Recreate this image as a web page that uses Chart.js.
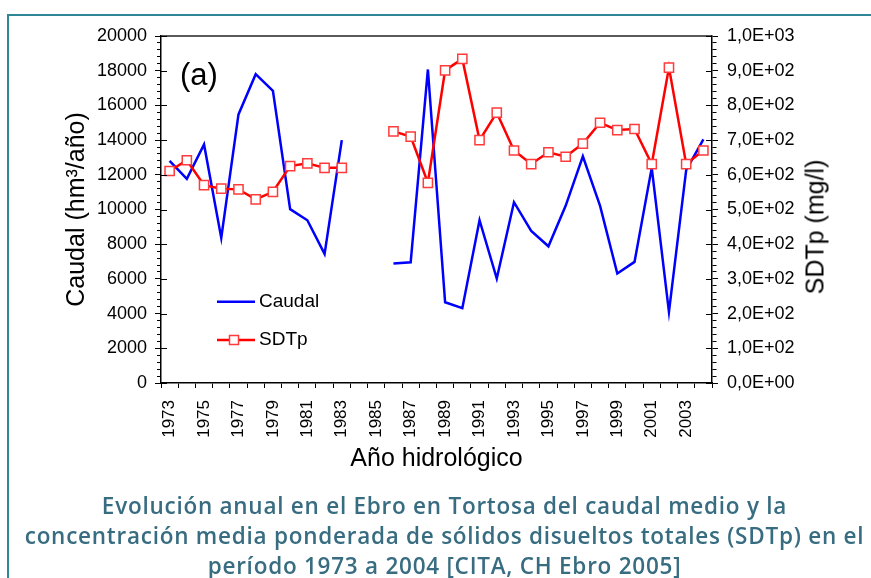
<!DOCTYPE html>
<html>
<head>
<meta charset="utf-8">
<script src="https://cdn.jsdelivr.net/npm/chart.js@4.4.1/dist/chart.umd.min.js"></script>
<style>
  html, body { margin: 0; padding: 0; background: #fff; }
  #wrap { position: relative; width: 871px; height: 578px; overflow: hidden; background: #fff; }
  #c { position: absolute; left: 0; top: 0; }
  .frameTop { position: absolute; left: 7px; top: 14px; width: 864px; height: 2px; background: #2e8696; }
  .frameLeft { position: absolute; left: 7px; top: 14px; width: 2px; height: 564px; background: #2e8696; }
  .txt { position: absolute; font-family: "Liberation Sans", Arial, sans-serif; color: #000; white-space: nowrap; }
  #panel { left: 180px; top: 59px; font-size: 31px; line-height: 31px; }
  #rtitle { left: 815px; top: 227px; font-size: 25px; line-height: 25px; transform: translate(-50%, -50%) rotate(-90deg); }
  .legtxt { font-size: 19px; line-height: 22px; }
  #caption { position: absolute; left: 0; width: 889px; top: 491px; text-align: center;
             font-family: "Open Sans", sans-serif; font-weight: 600; font-size: 22.5px; letter-spacing: 0.75px;
             line-height: 30px; color: #386d81; white-space: nowrap; }
</style>
</head>
<body>
<div id="wrap">
  <canvas id="c" width="871" height="578"></canvas>
  <div class="frameTop"></div>
  <div class="frameLeft"></div>
  <div class="txt" id="panel">(a)</div>
  <div class="txt" id="rtitle">SDTp (mg/l)</div>
  <svg style="position:absolute;left:215px;top:290px" width="44" height="60">
    <line x1="2" y1="11.7" x2="40" y2="11.7" stroke="#0000ff" stroke-width="2.5"/>
    <line x1="2" y1="50" x2="40" y2="50" stroke="#ff0000" stroke-width="2.5"/>
    <rect x="14.5" y="45.5" width="9" height="9" fill="#fff" stroke="#ff3b3b" stroke-width="1.5"/>
  </svg>
  <div class="txt legtxt" id="leg0" style="left:259px;top:290px"></div>
  <div class="txt legtxt" id="leg1" style="left:259px;top:328px"></div>
  <div id="caption">Evolución anual en el Ebro en Tortosa del caudal medio y la<br>concentración media ponderada de sólidos disueltos totales (SDTp) en el<br>período 1973 a 2004 [CITA, CH Ebro 2005]</div>
</div>
<script>
// ---- data ----
const years = ['1973','1974','1975','1976','1977','1978','1979','1980','1981','1982','1983','1984',
               '1985','1986','1987','1988','1989','1990','1991','1992','1993','1994','1995','1996',
               '1997','1998','1999','2000','2001','2002','2003','2004'];
const caudal = [12800, 11765, 13750, 8360, 15480, 17800, 16840, 10020, 9380, 7440, 14000, null,
                null, 6885, 6960, 18070, 4654, 4310, 9380, 6020, 10420, 8770, 7880, 10210,
                13070, 10210, 6310, 6980, 12400, 4100, 12270, 14040];
const sdtp = [611, 642, 570, 560, 558, 529, 551, 625, 633, 620, 620, null,
              null, 725, 710, 577, 901, 934, 700, 779, 670, 631, 665, 652,
              690, 750, 729, 732, 631, 909, 631, 670];
const caudalTickLabels = ['0','2000','4000','6000','8000','10000','12000','14000','16000','18000','20000'];
const sdtpTickLabels = ['0,0E+00','1,0E+02','2,0E+02','3,0E+02','4,0E+02','5,0E+02',
                        '6,0E+02','7,0E+02','8,0E+02','9,0E+02','1,0E+03'];
const seriesNames = ['Caudal', 'SDTp'];

const FONT = '"Liberation Sans", Arial, sans-serif';
Chart.defaults.font.family = FONT;
Chart.defaults.color = '#000';

document.getElementById('leg0').textContent = seriesNames[0];
document.getElementById('leg1').textContent = seriesNames[1];

const boxPlugin = {
  id: 'boxPlugin',
  afterDraw(chart) {
    const { ctx, chartArea: a } = chart;
    ctx.save();
    ctx.strokeStyle = '#222';
    ctx.lineWidth = 1.5;
    ctx.beginPath();
    ctx.moveTo(a.left, a.top);
    ctx.lineTo(a.right, a.top);
    ctx.stroke();
    ctx.strokeStyle = '#000';
    ctx.lineWidth = 1;
    const yl = chart.scales.y, yr = chart.scales.y2;
    yl.ticks.forEach(t => {
      if (Math.round(t.value) % 2000 === 0) {
        const p = Math.round(yl.getPixelForValue(t.value)) + 0.5;
        ctx.beginPath(); ctx.moveTo(a.left, p); ctx.lineTo(a.left + 6, p); ctx.stroke();
      }
    });
    yr.ticks.forEach(t => {
      if (Math.round(t.value) % 100 === 0) {
        const p = Math.round(yr.getPixelForValue(t.value)) + 0.5;
        ctx.beginPath(); ctx.moveTo(a.right - 6, p); ctx.lineTo(a.right, p); ctx.stroke();
      }
    });
    ctx.restore();
  }
};

new Chart(document.getElementById('c'), {
  type: 'line',
  data: {
    labels: years,
    datasets: [
      {
        label: seriesNames[1], data: sdtp, yAxisID: 'y2', order: 0,
        borderColor: '#ff0000', borderWidth: 2.5, tension: 0, spanGaps: false,
        pointStyle: 'rect', pointRadius: 6.5, pointBorderWidth: 1.5,
        pointBorderColor: '#ff3b3b', pointBackgroundColor: '#ffffff'
      },
      {
        label: seriesNames[0], data: caudal, yAxisID: 'y', order: 1,
        borderColor: '#0000ff', borderWidth: 2.5, tension: 0, spanGaps: false,
        pointRadius: 0
      }
    ]
  },
  options: {
    responsive: false,
    animation: false,
    devicePixelRatio: 1,
    layout: { padding: { top: 36, left: 0, right: 0, bottom: 0 } },
    plugins: { legend: { display: false }, tooltip: { enabled: false } },
    scales: {
      x: {
        type: 'category', offset: true,
        grid: { offset: true, drawOnChartArea: false, tickLength: 5, tickColor: '#000', tickWidth: 1 },
        border: { display: true, color: '#000', width: 1.5 },
        ticks: {
          autoSkip: false, maxRotation: 90, minRotation: 90, padding: 12,
          font: { size: 17 }, color: '#000',
          callback: (v, i) => (parseInt(years[i], 10) % 2 === 1 ? years[i] : '')
        },
        title: { display: true, text: 'Año hidrológico', font: { size: 25 }, color: '#000',
                 padding: { top: 0, bottom: 104 } },
        afterFit: s => { s.height = 195; }
      },
      y: {
        type: 'linear', position: 'left', min: 0, max: 20000,
        grid: {
          drawOnChartArea: false, tickLength: 6, tickColor: '#000', tickWidth: 1,
          tickBorderDash: ctx => (ctx.tick && Math.round(ctx.tick.value) % 2000 === 0) ? [] : [0, 2, 4, 100]
        },
        border: { display: true, color: '#000', width: 1.5 },
        ticks: {
          stepSize: 400, autoSkip: false, padding: 8, font: { size: 18 }, color: '#000',
          callback: v => (Math.round(v) % 2000 === 0 ? caudalTickLabels[Math.round(v) / 2000] : '')
        },
        title: { display: true, text: 'Caudal (hm³/año)', font: { size: 25 }, color: '#000',
                 padding: { top: 62, bottom: 0 } },
        afterFit: s => { s.width = 161; }
      },
      y2: {
        type: 'linear', position: 'right', min: 0, max: 1000,
        grid: {
          drawOnChartArea: false, tickLength: 6, tickColor: '#000', tickWidth: 1,
          tickBorderDash: ctx => (ctx.tick && Math.round(ctx.tick.value) % 100 === 0) ? [] : [4, 100]
        },
        border: { display: true, color: '#000', width: 1.5 },
        ticks: {
          stepSize: 20, autoSkip: false, padding: 9, font: { size: 18 }, color: '#000',
          callback: v => (Math.round(v) % 100 === 0 ? sdtpTickLabels[Math.round(v) / 100] : '')
        },
        title: { display: false },
        afterFit: s => { s.width = 159; }
      }
    }
  },
  plugins: [boxPlugin]
});
</script>
</body>
</html>
